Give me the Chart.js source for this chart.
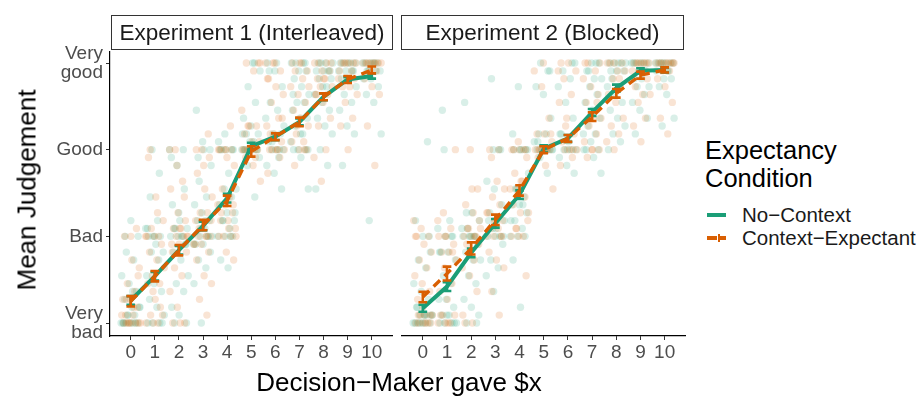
<!DOCTYPE html>
<html>
<head>
<meta charset="utf-8">
<script src="https://cdn.jsdelivr.net/npm/chart.js@4.4.1/dist/chart.umd.min.js"></script>
<style>
  body { margin: 0; background: #fff; font-family: "Liberation Sans", Arial, sans-serif; }
  #wrap { position: relative; width: 919px; height: 397px; overflow: hidden; }
  canvas { position: absolute; top: 0; }
  .strip { position: absolute; top: 15px; height: 35px; border: 1.3px solid #333; box-sizing: border-box;
           font-size: 22.5px; text-align: center; line-height: 33px; color: #1a1a1a; white-space: nowrap; }
  .title { position: absolute; font-size: 26px; color: #000; white-space: nowrap; }
  .lg { position: absolute; left: 742px; font-size: 20.5px; color: #1a1a1a; white-space: nowrap; }
  .key { position: absolute; left: 707px; width: 19px; height: 4px; }
</style>
</head>
<body>
<div id="wrap">
  <canvas id="p1" width="396" height="397" style="left:0"></canvas>
  <canvas id="p2" width="300" height="397" style="left:396px"></canvas>
  <div class="strip" id="s1" style="left:111px;width:282px"></div>
  <div class="strip" id="s2" style="left:401px;width:283px"></div>
  <div class="title" id="xt" style="left:399px;top:367px;transform:translateX(-50%)"></div>
  <div class="title" id="yt" style="left:27px;top:190px;transform:translate(-50%,-50%) rotate(-90deg)"></div>
  <div class="title" style="left:705px;top:136px;line-height:28px;font-size:25.5px">Expectancy<br>Condition</div>
  <div class="key" style="top:213px;background:#1B9E77"></div>
  <div class="key" style="top:236px;width:10px;background:#D95F02"></div>
  <div class="key" style="top:236px;left:720px;width:6px;background:#D95F02"></div>
  <div class="key" style="top:234px;left:718px;width:1.5px;height:8px;background:#D95F02"></div>
  <div class="lg" id="l1" style="top:203px"></div>
  <div class="lg" id="l2" style="top:226px"></div>
</div>
<script>
/* ── data ── */
var xVals = [0, 1, 2, 3, 4, 5, 6, 7, 8, 9, 10];
var yLevels = [1, 2, 3, 4];
var yLabels = [["Very", "bad"], "Bad", "Good", ["Very", "good"]];
var panelTitles = ["Experiment 1 (Interleaved)", "Experiment 2 (Blocked)"];
var seriesNames = ["No\u2212Context", "Context\u2212Expectant"];
var xTitle = "Decision\u2212Maker gave $x";
var yTitle = "Mean Judgement";

/* condition means and standard errors */
var exp1NoCtxMean = [1.26, 1.54, 1.84, 2.12, 2.44, 3.04, 3.15, 3.32, 3.61, 3.81, 3.85];
var exp1NoCtxErr  = [0.05, 0.05, 0.05, 0.05, 0.05, 0.04, 0.04, 0.04, 0.04, 0.03, 0.03];
var exp1CtxMean   = [1.25, 1.54, 1.84, 2.13, 2.41, 2.98, 3.15, 3.32, 3.61, 3.81, 3.92];
var exp1CtxErr    = [0.06, 0.06, 0.06, 0.06, 0.06, 0.06, 0.04, 0.05, 0.04, 0.04, 0.04];
var exp2NoCtxMean = [1.17, 1.42, 1.81, 2.15, 2.48, 3.01, 3.13, 3.43, 3.71, 3.91, 3.92];
var exp2NoCtxErr  = [0.04, 0.05, 0.05, 0.05, 0.05, 0.04, 0.04, 0.04, 0.04, 0.03, 0.03];
var exp2CtxMean   = [1.30, 1.57, 1.86, 2.19, 2.53, 3.00, 3.13, 3.38, 3.65, 3.86, 3.92];
var exp2CtxErr    = [0.06, 0.08, 0.07, 0.06, 0.06, 0.04, 0.04, 0.05, 0.05, 0.04, 0.03];

/* participant means: steps of 1/11 above "Very bad", one list per amount */
var exp1NoCtxPts = [
  [0,0,0,0,0,0,1,1,2,2,3,4,5,6,8,9,11,13,0,0,1,2,4,11],
  [0,0,0,1,2,3,4,5,6,8,9,9,10,11,11,11,12,13,16,0,11,12,19,22],
  [0,0,1,2,4,5,6,8,9,10,11,11,11,12,12,13,15,17,20,22,11,12,10,14,21,22],
  [0,5,7,8,9,10,10,11,11,11,12,13,13,14,15,16,18,20,22,27,11,12,10,13,21,22,23],
  [7,8,11,11,11,12,13,13,14,15,16,17,17,19,22,22,22,23,11,13,14,16,22,22,24],
  [16,20,21,22,22,22,22,22,23,24,24,25,26,28,30,32,33,22,22,23,24,33],
  [17,19,20,21,22,22,22,23,24,24,26,27,28,30,32,33,22,23,25,33,32],
  [17,21,22,22,22,23,24,25,26,26,27,28,28,29,30,31,32,32,33,33,33,22,24,29,33],
  [17,20,22,24,25,26,27,28,29,30,31,31,32,32,32,33,33,33,33,32,30],
  [20,24,25,27,28,29,30,31,31,32,32,32,33,33,33,33,33,32],
  [13,24,28,29,30,31,31,32,32,32,33,33,33,33,33,33,32]
];
var exp1CtxPts = [
  [0,0,0,0,0,0,0,1,1,2,3,3,4,5,7,8,11,12,0,1,2,3,6,11],
  [0,0,0,1,1,3,5,5,6,7,8,9,10,11,11,11,12,13,16,21,2,4,11,14,22],
  [0,0,0,2,4,6,7,9,10,10,11,11,11,12,12,13,14,17,18,22,11,12,9,16,20,22],
  [1,3,5,6,8,9,10,10,11,11,11,12,13,14,14,16,17,19,21,22,10,11,12,13,20,22,24],
  [8,9,11,11,11,12,13,13,14,15,15,16,17,20,21,22,22,22,11,12,14,15,22,22,25],
  [18,20,21,22,22,22,22,22,23,23,24,25,25,27,32,33,33,22,22,21,25,33],
  [19,21,22,22,22,22,23,24,25,26,28,29,30,31,32,33,33,22,24,26,33,31],
  [20,22,22,23,23,24,25,26,27,28,29,30,31,32,32,33,33,22,25,30,33],
  [18,21,22,25,26,28,29,29,30,30,31,31,32,32,33,33,33,33,31,29],
  [22,25,26,28,29,30,30,31,31,32,32,33,33,33,33,33,33,31],
  [20,25,29,30,31,32,32,33,33,33,33,33,33,33,33]
];
var exp2NoCtxPts = [
  [0,0,0,0,0,0,1,1,1,1,2,3,4,5,7,8,9,11,13,23,0,1,1,2,11],
  [0,0,0,0,1,1,2,3,3,5,6,8,9,9,11,11,12,13,27,0,1,9,11,22],
  [0,1,2,3,5,6,8,8,9,10,11,11,11,12,13,14,28,0,11,12,11,14],
  [4,6,7,8,10,11,11,11,12,13,13,14,15,17,18,22,31,11,12,13,22,22],
  [2,8,11,11,11,12,13,14,15,15,16,17,19,22,22,22,30,13,15,17,22,22,24],
  [19,21,22,22,22,22,22,23,24,24,26,29,30,32,33,22,22,23,32],
  [19,20,21,22,22,22,23,24,26,28,30,31,32,33,22,24,33],
  [19,21,22,22,23,24,24,25,26,27,28,29,30,31,31,32,33,33,22,33,32],
  [22,23,24,25,26,27,28,29,30,30,31,32,32,33,33,33,33,33,32],
  [24,26,27,28,29,30,30,31,31,32,32,33,33,33,33,33,33,32],
  [25,26,29,30,31,31,32,32,33,33,33,33,33,33,33,32]
];
var exp2CtxPts = [
  [0,0,0,0,0,1,1,1,3,4,5,6,7,8,9,10,11,11,12,13,0,1,1,2,11],
  [0,0,0,1,1,3,4,5,7,8,9,9,10,11,11,12,14,22,0,1,9,11,13],
  [0,0,4,6,7,8,10,10,11,11,11,12,12,14,15,17,22,1,11,12,13,17],
  [1,4,7,8,9,11,11,11,12,12,13,13,14,15,16,17,18,22,11,13,14,22,21],
  [6,11,11,11,12,13,14,15,16,17,17,18,19,21,22,22,22,12,14,18,22,22,23],
  [17,20,21,22,22,22,22,22,23,24,24,26,30,32,22,22,24,33],
  [20,21,22,22,22,23,24,26,28,29,31,32,33,33,22,25,32],
  [21,22,22,23,24,25,26,26,28,29,30,31,32,33,33,22,33,28],
  [22,23,24,25,26,28,29,30,31,32,32,33,33,33,33,31],
  [23,25,26,28,29,29,30,31,32,32,33,33,33,33,33,33,33],
  [24,26,28,30,31,32,32,33,33,33,33,33,33,33,33,33]
];

var GREEN = "#1B9E77", ORANGE = "#D95F02";

document.getElementById("s1").textContent = panelTitles[0];
document.getElementById("s2").textContent = panelTitles[1];
document.getElementById("xt").textContent = xTitle;
document.getElementById("yt").textContent = yTitle;
document.getElementById("l1").textContent = seriesNames[0];
document.getElementById("l2").textContent = seriesNames[1];

/* horizontal jitter, deterministic */
function jit(i, xi, k) {
  return ((i * 0.618034 + xi * 0.137 + k * 0.29) % 1) * 0.8 - 0.4;
}
function toPoints(lists, k) {
  var out = [];
  lists.forEach(function(rows, xi) {
    rows.forEach(function(r, i) {
      out.push({ x: xVals[xi] + jit(i, xi, k), y: 1 + r / 11 });
    });
  });
  return out;
}
function toLine(means) {
  return means.map(function(m, i) { return { x: xVals[i], y: m }; });
}

var errorBars = {
  id: "errorBars",
  afterDatasetDraw: function(chart, args) {
    var ds = chart.data.datasets[args.index];
    if (!ds.err) return;
    var xs = chart.scales.x, ys = chart.scales.y, ctx = chart.ctx;
    var hw = xs.getPixelForValue(0.18) - xs.getPixelForValue(0);
    ctx.save();
    ctx.strokeStyle = ds.borderColor;
    ctx.lineWidth = 2.6;
    ctx.setLineDash([]);
    ds.data.forEach(function(p, i) {
      var px = xs.getPixelForValue(p.x);
      var t = ys.getPixelForValue(p.y + ds.err[i]);
      var b = ys.getPixelForValue(p.y - ds.err[i]);
      ctx.beginPath();
      ctx.moveTo(px, t); ctx.lineTo(px, b);
      ctx.moveTo(px - hw, t); ctx.lineTo(px + hw, t);
      ctx.moveTo(px - hw, b); ctx.lineTo(px + hw, b);
      ctx.stroke();
    });
    ctx.restore();
  }
};

function makePanel(id, ncPts, cePts, ncMean, ncErr, ceMean, ceErr, showY, pad) {
  var tickFont = { family: "'Liberation Sans', Arial, sans-serif", size: 19 };
  new Chart(document.getElementById(id), {
    type: "scatter",
    data: {
      datasets: [
        { data: toPoints(ncPts, 0), backgroundColor: "rgba(27,158,119,0.17)", pointRadius: 3.7, borderWidth: 0, order: 4 },
        { data: toPoints(cePts, 1), backgroundColor: "rgba(217,95,2,0.17)", pointRadius: 3.7, borderWidth: 0, order: 3 },
        { data: toLine(ncMean), err: ncErr, showLine: true, borderColor: GREEN, borderWidth: 4, pointRadius: 0, order: 2 },
        { data: toLine(ceMean), err: ceErr, showLine: true, borderColor: ORANGE, borderWidth: 3.4, borderDash: [9, 6], pointRadius: 0, order: 1 }
      ]
    },
    options: {
      responsive: false, animation: false, devicePixelRatio: 1,
      layout: { padding: pad },
      plugins: { legend: { display: false }, tooltip: { enabled: false } },
      scales: {
        x: {
          type: "linear", min: -0.86, max: 10.84,
          afterBuildTicks: function(s) { s.ticks = xVals.map(function(v) { return { value: v }; }); },
          afterFit: function(s) { s.height = 61; },
          ticks: { font: tickFont, color: "#4d4d4d", padding: 1, autoSkip: false, maxRotation: 0 },
          grid: { drawOnChartArea: false, drawTicks: true, tickLength: 4, color: "#333" },
          border: { display: true, color: "#000", width: 1.2 }
        },
        y: {
          type: "linear", min: 0.85, max: 4.127, display: showY,
          afterBuildTicks: function(s) { s.ticks = yLevels.map(function(v) { return { value: v }; }); },
          afterFit: function(s) { s.width = showY ? 110 : 0; },
          ticks: {
            font: Object.assign({ lineHeight: 1.0 }, tickFont), color: "#4d4d4d", padding: 3,
            callback: function(v) { return yLabels[yLevels.indexOf(v)]; }
          },
          grid: { drawOnChartArea: false, drawTicks: true, tickLength: 4, color: "#333" },
          border: { display: true, color: "#000", width: 1.2 }
        }
      }
    },
    plugins: [errorBars]
  });
}

makePanel("p1", exp1NoCtxPts, exp1CtxPts, exp1NoCtxMean, exp1NoCtxErr, exp1CtxMean, exp1CtxErr,
          true, { top: 52, right: 4, left: 0, bottom: 0 });
makePanel("p2", exp2NoCtxPts, exp2CtxPts, exp2NoCtxMean, exp2NoCtxErr, exp2CtxMean, exp2CtxErr,
          false, { top: 52, right: 11, left: 6, bottom: 0 });
</script>
</body>
</html>
